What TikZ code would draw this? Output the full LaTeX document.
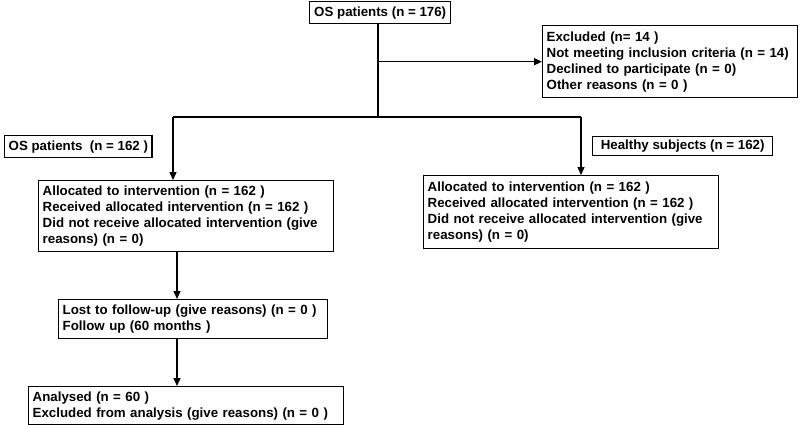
\documentclass[tikz,border=0pt]{standalone}
\usepackage{fontspec}
\setmainfont{Liberation Sans}
\usetikzlibrary{arrows.meta}

\begin{document}
\begin{tikzpicture}[x=1pt, y=-1pt,
  flowbox/.style={draw, line width=1.4pt, anchor=north west, align=left,
    inner xsep=4pt, inner ysep=2pt, font=\fontsize{13.3}{16}\selectfont\bfseries},
  arr/.style={line width=1.4pt, -{Triangle[length=8pt,width=7pt]}}]
\useasboundingbox (0,0) rectangle (800,425);
\node[flowbox, minimum width=141pt, minimum height=22pt] (top) at (309,1) {OS patients (n = 176)};
\node[flowbox, text width=247pt, minimum height=72pt] (excl) at (542,25) {Excluded (n= 14 )\\Not meeting inclusion criteria (n = 14)\\Declined to participate (n = 0)\\Other reasons (n = 0 )};
\node[flowbox, minimum width=146pt, minimum height=22pt] (os) at (4,135) {OS patients \ (n = 162 )};
\node[flowbox, minimum width=180pt, minimum height=19pt] (healthy) at (592,136) {Healthy subjects (n = 162)};
\node[flowbox, text width=287pt, minimum height=71pt] (allocL) at (38,180) {Allocated to intervention (n = 162 )\\Received allocated intervention (n = 162 )\\Did not receive allocated intervention (give\\reasons) (n = 0)};
\node[flowbox, text width=287pt, minimum height=73pt] (allocR) at (423,175) {Allocated to intervention (n = 162 )\\Received allocated intervention (n = 162 )\\Did not receive allocated intervention (give\\reasons) (n = 0)};
\node[flowbox, text width=261pt, minimum height=39pt] (lost) at (58,299) {Lost to follow-up (give reasons) (n = 0 )\\Follow up (60 months )};
\node[flowbox, text width=307pt, minimum height=38pt] (anal) at (28,386) {Analysed (n = 60 )\\Excluded from analysis (give reasons) (n = 0 )};
% branching
\coordinate (split) at (378,117);
\coordinate (splitL) at (173,117);
\coordinate (splitR) at (581,117);
\draw[line width=1.4pt] (split |- top.south) -- (split);
\draw[arr] (split |- excl.west) -- (excl.west);
\draw[line width=1.4pt] (splitL) -- (splitR);
\draw[arr] (splitL) -- (splitL |- allocL.north);
\draw[arr] (splitR) -- (splitR |- allocR.north);
\coordinate (down) at (177,0);
\draw[arr] (down |- allocL.south) -- (down |- lost.north);
\draw[arr] (down |- lost.south) -- (down |- anal.north);
\end{tikzpicture}
\end{document}
